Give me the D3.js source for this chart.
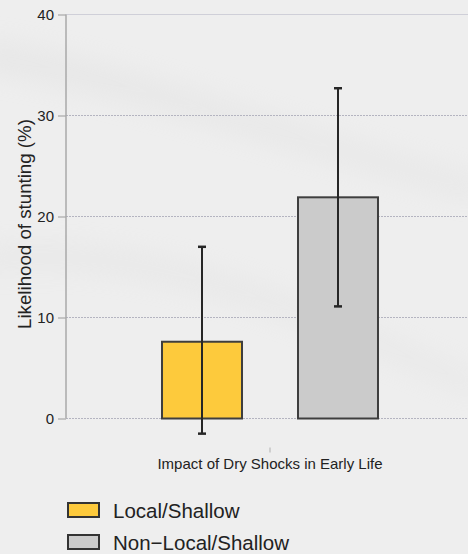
<!DOCTYPE html>
<html>
<head>
<meta charset="utf-8">
<script src="https://cdn.jsdelivr.net/npm/d3@7"></script>
<style>
  html, body { margin: 0; padding: 0; background: #eeeeee; }
  svg { display: block; font-family: "Liberation Sans", Arial, Helvetica, sans-serif; }
</style>
</head>
<body>
<svg class="chart"></svg>
<script>
// Chart data
var categories = ['Impact of Dry Shocks in Early Life'];
var groups = ['Local/Shallow', 'Non\u2212Local/Shallow'];
var estimates = [7.6, 21.9];
var lowerCI = [-1.5, 11.1];
var upperCI = [17.0, 32.7];
var yTicks = [0, 10, 20, 30, 40];
var colors = ['#fdca3c', '#cbcbcb'];

// Global setup
var width = 468;
var height = 554;
var margin = {top: 14.5, right: -6, bottom: 135.5, left: 66};

var svg = d3.select('.chart')
  .attr('width', width)
  .attr('height', height);

// Background, light paper tone with a few soft streaks
var defs = svg.append('defs');
var blur = defs.append('filter').attr('id', 'soft')
  .attr('x', '-20%').attr('y', '-50%').attr('width', '140%').attr('height', '200%');
blur.append('feGaussianBlur').attr('stdDeviation', 14);

svg.append('rect')
  .attr('width', width)
  .attr('height', height)
  .attr('fill', '#eeeeee');

var streaks = svg.append('g').attr('filter', 'url(#soft)').attr('fill', '#dcdcdc').attr('opacity', 0.4);
streaks.append('path').attr('d', 'M -20 40 C 120 60, 260 120, 480 180 L 480 200 C 260 140, 120 90, -20 70 Z');
streaks.append('path').attr('d', 'M -20 250 C 150 230, 300 300, 480 380 L 480 395 C 300 320, 150 250, -20 270 Z');

var y = d3.scaleLinear()
  .domain([0, 40])
  .range([height - margin.bottom, margin.top]);

var x0 = d3.scaleBand()
  .domain(categories)
  .range([margin.left, width - margin.right]);

var x1 = d3.scaleBand()
  .domain(groups)
  .range([0, x0.bandwidth()])
  .paddingInner(0.4118)
  .paddingOuter(0.706);

// Grid lines
svg.append('g')
  .selectAll('line')
  .data(yTicks)
  .enter()
  .append('line')
  .attr('x1', margin.left)
  .attr('x2', width)
  .attr('y1', function (d) { return y(d); })
  .attr('y2', function (d) { return y(d); })
  .attr('stroke', function (d) { return d === 40 ? '#cfcfd8' : '#b4b4c0'; })
  .attr('stroke-width', 1)
  .attr('stroke-dasharray', function (d) { return d === 40 ? null : '2,1'; });

// Y axis
var yAxis = d3.axisLeft(y)
  .tickValues(yTicks)
  .tickSize(8)
  .tickPadding(4);

var yAxisG = svg.append('g')
  .attr('transform', 'translate(' + margin.left + ',0)')
  .call(yAxis);

yAxisG.select('.domain')
  .attr('d', 'M0,' + y(40) + 'V' + y(0))
  .attr('stroke', '#a8a8a8')
  .attr('stroke-width', 1.5);
yAxisG.selectAll('.tick line').attr('stroke', '#a8a8a8').attr('stroke-width', 1.2);
yAxisG.selectAll('.tick text')
  .attr('fill', '#222')
  .attr('font-size', 15)
  .attr('font-family', '"Liberation Sans", Arial, sans-serif');

// Y axis title
svg.append('text')
  .attr('transform', 'translate(30.5,224) rotate(-90)')
  .attr('text-anchor', 'middle')
  .attr('font-size', 18.7)
  .attr('fill', '#222')
  .text('Likelihood of stunting (%)');

// X axis (tick + label only)
var xAxis = d3.axisBottom(x0).tickSize(5).tickPadding(6);
var xAxisG = svg.append('g')
  .attr('transform', 'translate(0,' + (y(0) + 29) + ')')
  .call(xAxis);
xAxisG.select('.domain').remove();
xAxisG.selectAll('.tick line').attr('stroke', '#b0b0b0').attr('stroke-width', 1);
xAxisG.selectAll('.tick text')
  .attr('fill', '#222')
  .attr('font-size', 15)
  .attr('font-family', '"Liberation Sans", Arial, sans-serif');

// Bars
var rows = groups.map(function (g, i) {
  return {cat: categories[0], group: g, value: estimates[i], lo: lowerCI[i], hi: upperCI[i], color: colors[i]};
});

var content = svg.append('g');

content.selectAll('.bar')
  .data(rows)
  .enter()
  .append('rect')
  .attr('class', 'bar')
  .attr('x', function (d) { return x0(d.cat) + x1(d.group); })
  .attr('y', function (d) { return y(d.value); })
  .attr('width', x1.bandwidth())
  .attr('height', function (d) { return y(0) - y(d.value); })
  .attr('fill', function (d) { return d.color; })
  .attr('stroke', '#3e3e3e')
  .attr('stroke-width', 2);

// Error bars
var cap = 4;
var err = content.selectAll('.err')
  .data(rows)
  .enter()
  .append('g')
  .attr('class', 'err')
  .attr('stroke', '#262626')
  .attr('stroke-width', 2);

err.append('line')
  .attr('x1', function (d) { return x0(d.cat) + x1(d.group) + x1.bandwidth() / 2; })
  .attr('x2', function (d) { return x0(d.cat) + x1(d.group) + x1.bandwidth() / 2; })
  .attr('y1', function (d) { return y(d.lo); })
  .attr('y2', function (d) { return y(d.hi); });

['lo', 'hi'].forEach(function (k) {
  err.append('line')
    .attr('x1', function (d) { return x0(d.cat) + x1(d.group) + x1.bandwidth() / 2 - cap; })
    .attr('x2', function (d) { return x0(d.cat) + x1(d.group) + x1.bandwidth() / 2 + cap; })
    .attr('y1', function (d) { return y(d[k]); })
    .attr('y2', function (d) { return y(d[k]); })
    .attr('stroke-width', 2.5);
});

// Legend
var legend = svg.append('g')
  .attr('transform', 'translate(68,503)')
  .selectAll('g')
  .data(rows)
  .enter()
  .append('g')
  .attr('transform', function (d, i) { return 'translate(0,' + (i * 32) + ')'; });

legend.append('rect')
  .attr('width', 31)
  .attr('height', 14)
  .attr('fill', function (d) { return d.color; })
  .attr('stroke', '#333')
  .attr('stroke-width', 2);

legend.append('text')
  .attr('x', 45)
  .attr('y', 14.5)
  .attr('font-size', 20.5)
  .attr('fill', '#222')
  .text(function (d) { return d.group; });
</script>
</body>
</html>
